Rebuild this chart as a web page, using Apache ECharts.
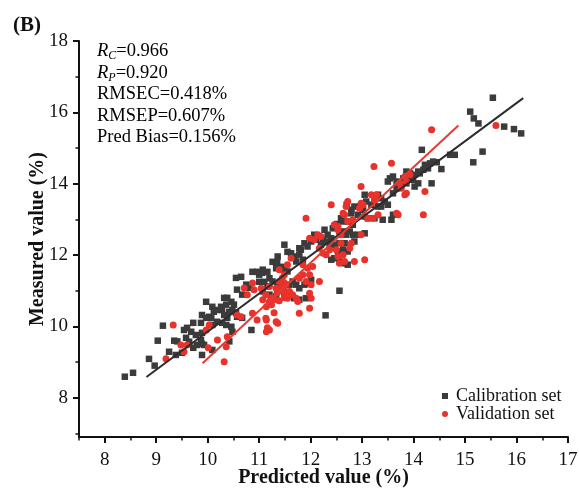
<!DOCTYPE html>
<html><head><meta charset="utf-8">
<script src="https://cdn.jsdelivr.net/npm/echarts@6/dist/echarts.min.js"></script>
<style>html,body{margin:0;padding:0;background:#fff}#c{width:579px;height:488px}</style>
</head><body><div id="c"></div>
<script>
const xTickLabels = [8, 9, 10, 11, 12, 13, 14, 15, 16, 17];
const xMinorTicks = [7.5, 8.5, 9.5, 10.5, 11.5, 12.5, 13.5, 14.5, 15.5, 16.5];
const yTickLabels = [8, 10, 12, 14, 16, 18];
const yMinorTicks = [7, 9, 11, 13, 15, 17];

const calibration = [
[8.39,8.59],[8.55,8.70],[8.86,9.09],[8.97,8.90],[9.03,9.60],[9.13,10.02],[9.25,9.29],[9.35,9.60],[9.41,9.58],[9.38,9.20],[9.50,9.26],[9.54,9.90],[9.58,9.68],[9.68,9.85],[9.72,10.10],[9.72,9.40],[9.87,10.10],[9.89,9.82],[9.89,9.51],[9.89,9.20],[9.97,10.69],[10.03,10.27],[10.09,10.04],
[11.49,12.29],[11.55,12.09],[11.26,11.81],[11.35,11.81],[11.43,11.67],[10.87,11.53],[10.96,11.53],[11.06,11.50],[11.16,11.53],[10.55,11.36],[10.65,11.39],[11.00,11.25],[11.10,11.25],[10.75,11.17],[10.81,11.08],[10.57,11.03],[10.67,10.89],[10.32,10.80],[10.38,10.80],[10.46,10.69],[10.36,10.61],[10.51,10.61],[10.26,10.55],[10.18,10.46],[10.28,10.46],[10.42,10.41],[10.48,10.46],[10.55,10.38],[10.32,10.32],[10.38,10.24],[10.09,10.55],[10.12,10.41],[9.89,10.32],[9.97,10.24],[10.07,10.24],[10.18,10.13],[10.28,10.10],[10.36,10.04],[10.85,9.90],[10.57,10.27],[10.67,10.24],[9.60,9.96],[9.77,9.76],[9.87,9.62],[9.79,9.48],[9.93,9.48],[10.46,9.99],[10.48,9.85],[9.64,9.57],[10.09,9.34],[10.42,9.58],
[12.70,13.41],[12.79,13.27],[12.85,13.36],[12.59,13.03],[12.63,12.94],[12.74,12.94],[12.82,12.85],[12.43,12.75],[12.51,12.87],[12.56,12.66],[12.66,12.66],[12.76,12.66],[12.82,12.57],[12.69,12.57],[12.27,12.71],[12.33,12.57],[12.40,12.47],[12.30,12.38],[12.24,12.43],[12.20,12.29],[12.37,12.29],[12.46,12.29],[12.56,12.33],[12.66,12.33],[12.72,12.10],[12.63,12.15],[12.53,12.10],[12.46,11.91],[12.40,11.87],[12.56,11.82],[12.66,11.77],[12.72,11.73],[12.07,12.57],[12.11,12.43],[12.01,12.38],[11.88,12.33],[11.94,12.24],[11.81,12.15],[11.78,12.19],[11.62,12.05],[11.68,11.96],[11.78,12.01],[11.85,11.87],[11.72,11.82],[11.36,11.96],[11.33,11.63],[11.49,11.59],[11.55,11.54],[11.07,11.59],[11.00,11.45],[11.20,11.35],[11.26,11.26],[11.16,11.12],[11.36,11.17],[11.46,11.07],[11.59,11.17],[11.65,11.26],[11.72,11.17],[11.78,11.07],[11.88,11.17],[11.94,11.21],[12.01,11.31],[11.07,10.98],[11.20,10.89],[11.33,10.84],[11.49,10.84],[11.59,10.89],[11.68,10.79],[11.78,10.75],[11.91,10.79],[12.56,11.00],[12.29,10.31],
[14.16,14.95],[14.32,14.57],[14.19,14.39],[14.09,14.34],[14.02,14.25],[13.93,14.29],[13.86,14.34],[13.80,14.15],[13.93,14.11],[13.86,14.01],[13.76,13.97],[13.67,14.06],[13.60,14.20],[13.54,14.15],[13.50,14.06],[13.67,13.87],[13.60,13.73],[14.35,14.01],[13.31,13.69],[13.37,13.59],[13.44,13.50],[13.50,13.41],[13.37,13.36],[13.24,13.50],[13.31,13.36],[13.18,13.41],[13.08,13.50],[13.05,13.69],[12.95,13.36],[13.02,13.27],[12.92,13.13],[13.05,13.08],[13.11,13.03],[13.24,13.03],[13.40,12.99],[13.57,12.99],[13.60,13.13],[12.92,12.57],[13.05,12.61],[12.79,13.17],[12.85,12.38],
[15.54,16.41],[15.10,16.02],[15.17,15.83],[15.26,15.69],[15.76,15.60],[15.95,15.53],[16.09,15.41],[15.34,14.90],[15.16,14.60],[14.71,14.81],[14.80,14.81],[14.54,14.41],[14.22,14.53],[14.38,14.62],[14.45,14.60],[14.28,14.43],[14.12,14.29],[13.99,14.11],[14.09,14.01],[14.02,13.92]
];

const validation = [
[9.33,10.04],[9.19,9.09],[9.48,9.48],[9.54,9.29],[9.97,9.90],[10.01,9.40],
[11.39,11.59],[11.45,11.36],[11.49,11.22],[11.43,11.08],[11.53,10.97],[11.35,10.94],[11.26,10.80],[11.20,10.69],[11.24,10.61],[11.14,10.55],[11.33,10.75],[11.49,10.80],[10.71,11.08],[10.90,11.03],[10.77,10.89],[10.87,11.22],[10.57,10.32],[10.65,10.27],[10.96,10.18],[11.14,10.18],[11.29,10.38],[11.33,10.13],[11.16,9.96],[11.20,9.90],[11.14,9.85],[10.03,10.04],[10.38,9.71],[10.36,9.43],[10.32,9.01],[9.60,9.48],
[12.40,13.41],[12.72,13.50],[12.66,13.13],[11.91,13.03],[11.98,12.47],[12.07,12.43],[12.14,12.57],[12.20,12.52],[12.53,12.80],[12.59,12.57],[12.37,12.15],[12.50,12.15],[12.30,12.01],[12.53,11.96],[12.63,12.01],[12.76,12.19],[12.56,11.77],[12.66,11.82],[12.85,11.82],[12.17,12.19],[12.24,12.05],[11.85,11.73],[11.94,11.63],[12.04,11.68],[11.62,11.91],[11.55,11.73],[11.85,11.45],[11.78,11.35],[11.98,11.45],[11.91,11.26],[12.01,11.17],[11.49,11.45],[11.39,11.26],[11.52,11.17],[11.33,11.07],[11.46,10.98],[11.59,10.98],[11.65,10.89],[11.72,10.79],[11.55,10.79],[11.39,10.72],[12.17,11.26],[11.98,10.93],[12.01,10.79],[11.20,11.12],[11.04,11.07],[11.13,10.89],[11.23,10.79],[11.07,10.75],[11.75,10.70],
[13.05,11.87],[11.78,10.37],[11.98,10.51],[11.36,10.09],[11.13,10.23],[10.87,10.37],[10.19,9.62],
[13.23,14.48],[13.57,14.57],[12.98,13.92],[13.83,14.20],[13.86,14.06],[13.73,14.01],[13.76,13.87],[13.86,13.73],[13.83,13.69],[14.22,13.78],[14.19,13.13],[13.67,13.17],[13.70,13.13],[13.18,13.69],[13.28,13.69],[13.24,13.55],[12.69,13.36],[12.98,13.45],[13.02,13.41],[12.95,13.31],[12.63,13.17],[12.72,12.94],[12.82,12.99],[13.11,13.03],[13.21,13.03],[13.31,13.13],[12.98,12.57],[12.59,12.33],[12.79,12.33],[12.46,12.85],[12.53,12.71],
[14.35,15.51],[15.60,15.63],[13.93,14.25]
];

const calibrationFit = [[8.81, 8.58], [16.13, 16.40]];
const validationFit = [[9.90, 8.97], [14.87, 15.63]];

const stats = [
  ['R', 'C', '=0.966'],
  ['R', 'P', '=0.920'],
  ['', '', 'RMSEC=0.418%'],
  ['', '', 'RMSEP=0.607%'],
  ['', '', 'Pred Bias=0.156%']
];

const FONT = '"Liberation Serif","Times New Roman",serif';
const INK = '#111';

const statText = stats.map(function (s) {
  return (s[0] ? '{i|' + s[0] + '}{s|' + s[1] + '}' : '') + '{n|' + s[2] + '}';
}).join('\n');

const chart = echarts.init(document.getElementById('c'), null, {renderer: 'canvas'});
chart.setOption({
  animation: false,
  backgroundColor: '#fff',
  grid: {left: 79, right: 11, top: 41, bottom: 51, containLabel: false, outerBoundsMode: 'none'},
  xAxis: [{
    type: 'value', min: 7.5, max: 17, position: 'bottom',
    axisLine: {onZero: false, lineStyle: {color: INK, width: 2}},
    axisTick: {customValues: xTickLabels, length: 6, lineStyle: {color: INK, width: 2}},
    axisLabel: {customValues: xTickLabels, margin: 14, fontSize: 19, fontFamily: FONT, color: INK},
    splitLine: {show: false},
    name: 'Predicted value (%)', nameLocation: 'middle', nameGap: 31, nameMoveOverlap: false,
    nameTextStyle: {fontFamily: FONT, fontSize: 20, fontWeight: 'bold', color: INK}
  }, {
    type: 'value', min: 7.5, max: 17, position: 'bottom',
    axisLine: {show: false},
    axisTick: {customValues: xMinorTicks, length: 3.5, lineStyle: {color: INK, width: 1.5}},
    axisLabel: {show: false}, splitLine: {show: false}
  }],
  yAxis: [{
    type: 'value', min: 6.9, max: 18, position: 'left',
    axisLine: {onZero: false, lineStyle: {color: INK, width: 2}},
    axisTick: {customValues: yTickLabels, length: 6, lineStyle: {color: INK, width: 2}},
    axisLabel: {customValues: yTickLabels, margin: 11, fontSize: 19, fontFamily: FONT, color: INK},
    splitLine: {show: false},
    name: 'Measured value (%)', nameLocation: 'middle', nameGap: 31, nameMoveOverlap: false,
    nameTextStyle: {fontFamily: FONT, fontSize: 20, fontWeight: 'bold', color: INK}
  }, {
    type: 'value', min: 6.9, max: 18, position: 'left',
    axisLine: {show: false},
    axisTick: {customValues: yMinorTicks, length: 3.5, lineStyle: {color: INK, width: 1.5}},
    axisLabel: {show: false}, splitLine: {show: false}
  }],
  legend: {
    orient: 'vertical', left: 442, top: 387, itemWidth: 6, itemHeight: 6, itemGap: 0, padding: 0,
    textStyle: {fontFamily: FONT, fontSize: 18, color: INK, lineHeight: 17, padding: [0, 0, 0, 3]},
    data: [{name: 'Calibration set', icon: 'rect'}, {name: 'Validation set', icon: 'circle'}]
  },
  graphic: [{
    type: 'text', left: 13, top: 15,
    style: {text: '(B)', font: 'bold 21px ' + FONT, fill: INK}
  }, {
    type: 'text', left: 97, top: 42,
    style: {
      text: statText,
      rich: {
        i: {fontStyle: 'italic', fontSize: 18.5, fontFamily: FONT, color: INK, lineHeight: 21.5},
        s: {fontStyle: 'italic', fontSize: 12, fontFamily: FONT, color: INK, lineHeight: 14, verticalAlign: 'bottom'},
        n: {fontSize: 18.5, fontFamily: FONT, color: INK, lineHeight: 21.5}
      }
    }
  }],
  series: [{
    name: 'Calibration set', type: 'scatter', data: calibration,
    symbol: 'rect', symbolSize: 6.5, itemStyle: {color: '#3b3b3b', opacity: 1}, z: 2
  }, {
    name: 'Validation set', type: 'scatter', data: validation,
    symbol: 'circle', symbolSize: 7, itemStyle: {color: '#e8322b', opacity: 1}, z: 3
  }, {
    type: 'line', data: calibrationFit, symbol: 'none', silent: true,
    lineStyle: {color: '#2d2d2d', width: 2}, z: 4
  }, {
    type: 'line', data: validationFit, symbol: 'none', silent: true,
    lineStyle: {color: '#e53b30', width: 2}, z: 4
  }]
});
</script>
</body></html>
